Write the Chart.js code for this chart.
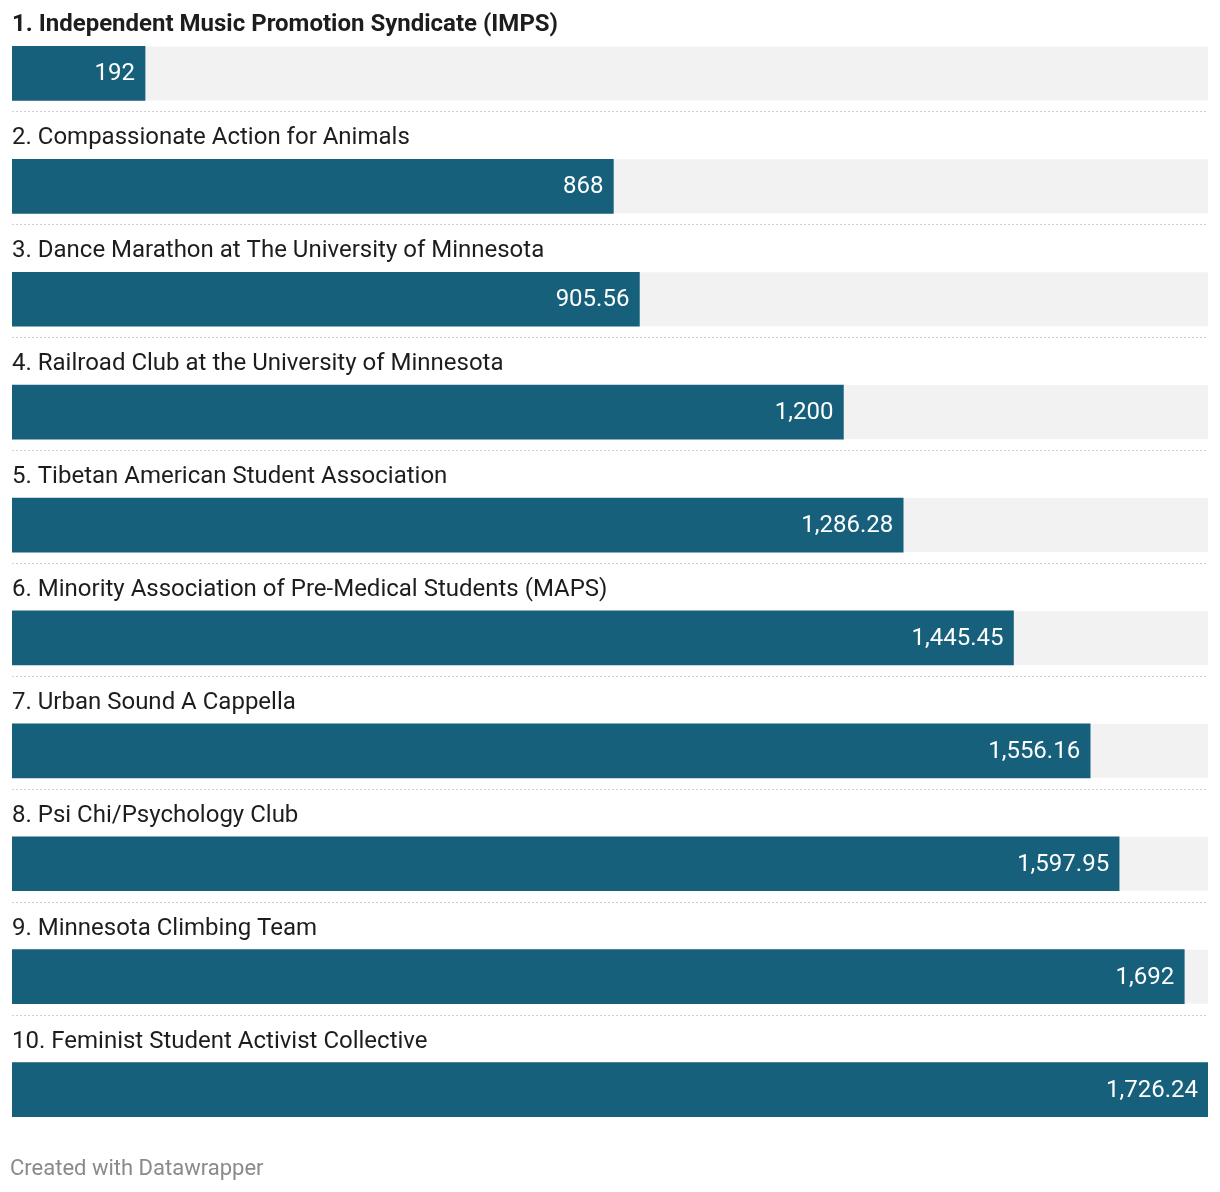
<!DOCTYPE html>
<html>
<head>
<meta charset="utf-8">
<script src="https://cdn.jsdelivr.net/npm/chart.js@4/dist/chart.umd.min.js"></script>
<style>
  html, body { margin: 0; padding: 0; background: #fff; }
  #wrap { position: relative; width: 1220px; height: 1192px; }
  #footer {
    position: absolute; left: 10px; top: 1155px;
    font-family: Roboto, sans-serif; font-size: 22px; color: #8a8a8a;
  }
</style>
</head>
<body>
<div id="wrap">
  <canvas id="chart" width="1220" height="1192"></canvas>
  <div id="footer">Created with Datawrapper</div>
</div>
<script>
const categories = [
  "1. Independent Music Promotion Syndicate (IMPS)",
  "2. Compassionate Action for Animals",
  "3. Dance Marathon at The University of Minnesota",
  "4. Railroad Club at the University of Minnesota",
  "5. Tibetan American Student Association",
  "6. Minority Association of Pre-Medical Students (MAPS)",
  "7. Urban Sound A Cappella",
  "8. Psi Chi/Psychology Club",
  "9. Minnesota Climbing Team",
  "10. Feminist Student Activist Collective"
];
const amounts = [192, 868, 905.56, 1200, 1286.28, 1445.45, 1556.16, 1597.95, 1692, 1726.24];

const BAR = "#17607b";
const fmt = v => v.toLocaleString("en-US", { maximumFractionDigits: 2 });

const rowDecor = {
  id: "rowDecor",
  beforeDatasetsDraw(chart) {
    const ctx = chart.ctx;
    const area = chart.chartArea;
    const meta = chart.getDatasetMeta(0);
    ctx.save();
    meta.data.forEach((bar, i) => {
      const h = bar.height;
      // grey track
      ctx.fillStyle = "#f2f2f2";
      ctx.fillRect(area.left, bar.y - h / 2, area.right - area.left, h);
      // dotted separator
      if (i < meta.data.length - 1) {
        ctx.strokeStyle = "#cfcfcf";
        ctx.lineWidth = 1;
        ctx.setLineDash([2, 2]);
        ctx.beginPath();
        const y = Math.round(bar.y + h / 2 + 11) + 0.5;
        ctx.moveTo(area.left, y);
        ctx.lineTo(area.right, y);
        ctx.stroke();
        ctx.setLineDash([]);
      }
    });
    ctx.restore();
  },
  afterDatasetsDraw(chart) {
    const ctx = chart.ctx;
    const area = chart.chartArea;
    const meta = chart.getDatasetMeta(0);
    ctx.save();
    meta.data.forEach((bar, i) => {
      const h = bar.height;
      // category label above bar
      ctx.font = (i === 0 ? "bold " : "") + "24px Roboto, sans-serif";
      ctx.fillStyle = "#1d1d1d";
      ctx.textAlign = "left";
      ctx.textBaseline = "alphabetic";
      ctx.fillText(categories[i], area.left, bar.y - h / 2 - 15);
      // value label inside bar
      ctx.font = "24px Roboto, sans-serif";
      ctx.fillStyle = "#ffffff";
      ctx.textAlign = "right";
      ctx.textBaseline = "middle";
      ctx.fillText(fmt(amounts[i]), bar.x - 10, bar.y + 1);
    });
    ctx.restore();
  }
};

new Chart(document.getElementById("chart"), {
  type: "bar",
  data: {
    labels: categories,
    datasets: [{
      data: amounts,
      backgroundColor: BAR,
      barThickness: 54,
      borderWidth: 0
    }]
  },
  options: {
    indexAxis: "y",
    responsive: false,
    animation: false,
    layout: { padding: { top: 17, bottom: 46, left: 12, right: 12 } },
    scales: {
      x: { display: false, min: 0, max: 1726.24 },
      y: { display: false, offset: true }
    },
    plugins: {
      legend: { display: false },
      tooltip: { enabled: false }
    }
  },
  plugins: [rowDecor]
});
</script>
</body>
</html>
